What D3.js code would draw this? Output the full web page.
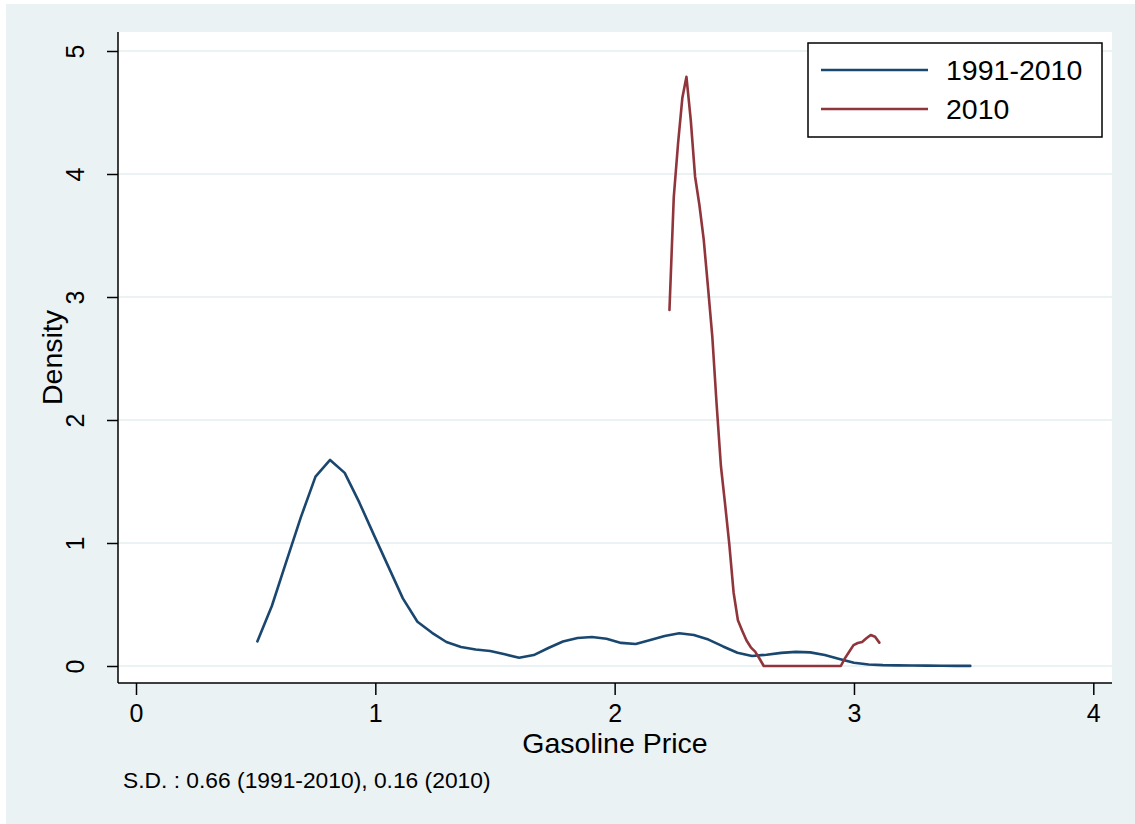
<!DOCTYPE html>
<html>
<head>
<meta charset="utf-8">
<script src="https://cdn.jsdelivr.net/npm/d3@7"></script>
<style>
  html, body { margin: 0; padding: 0; background: #ffffff; }
  svg { display: block; }
  text { font-family: "Liberation Sans", Arial, sans-serif; fill: #000; }
</style>
</head>
<body>
<svg id="chart" width="1135" height="824"></svg>
<script>
// ---- Data ----
const seriesNames = ["1991-2010", "2010"];

const xAll = [0.507,0.568,0.629,0.689,0.750,0.811,0.872,0.933,0.993,1.054,
              1.115,1.176,1.237,1.297,1.358,1.419,1.480,1.541,1.601,1.662,
              1.723,1.784,1.845,1.905,1.966,2.027,2.088,2.149,2.209,2.270,
              2.331,2.392,2.453,2.513,2.574,2.635,2.696,2.757,2.817,2.878,
              2.939,3.000,3.061,3.121,3.182,3.243,3.304,3.365,3.425,3.486];
const yAll = [0.20,0.49,0.855,1.21,1.54,1.675,1.57,1.33,1.07,0.81,
              0.55,0.36,0.27,0.195,0.155,0.134,0.122,0.095,0.067,0.089,
              0.146,0.199,0.228,0.236,0.222,0.188,0.179,0.211,0.244,0.266,
              0.252,0.215,0.159,0.108,0.081,0.092,0.107,0.115,0.111,0.089,
              0.057,0.026,0.012,0.007,0.005,0.004,0.003,0.002,0.001,0.001];

const x2010 = [2.229,2.247,2.265,2.283,2.300,2.318,2.336,2.354,2.372,2.390,
               2.408,2.426,2.444,2.461,2.479,2.497,2.515,2.533,2.551,2.569,
               2.587,2.605,2.623,2.640,2.658,2.676,2.694,2.712,2.730,2.748,
               2.766,2.784,2.801,2.819,2.837,2.855,2.873,2.891,2.909,2.927,
               2.945,2.962,2.980,2.998,3.016,3.034,3.052,3.070,3.088,3.106];
const y2010 = [2.894,3.81,4.25,4.62,4.79,4.44,3.98,3.75,3.47,3.08,
               2.68,2.13,1.626,1.325,0.99,0.598,0.372,0.287,0.207,0.152,
               0.117,0.061,0,0,0,0,0,0,0,0,
               0,0,0,0,0,0,0,0,0,0,
               0,0.062,0.116,0.17,0.187,0.195,0.225,0.252,0.238,0.19];

const xTicks = [0, 1, 2, 3, 4];
const yTicks = [0, 1, 2, 3, 4, 5];
const xTitle = "Gasoline Price";
const yTitle = "Density";
const noteText = "S.D. : 0.66 (1991-2010), 0.16 (2010)";

// ---- Layout ----
const bg = "#eaf2f3";
const colors = ["#1a476f", "#90353b"];
const svg = d3.select("#chart");

svg.append("rect").attr("x", 6).attr("y", 4).attr("width", 1135 - 6).attr("height", 824 - 4).attr("fill", bg);

const plot = { left: 118, right: 1112, top: 32, bottom: 683 };
svg.append("rect").attr("x", plot.left).attr("y", plot.top)
   .attr("width", plot.right - plot.left).attr("height", plot.bottom - plot.top).attr("fill", "#fff");

const x = d3.scaleLinear().domain([0, 4]).range([136, 1093.3]);
const y = d3.scaleLinear().domain([0, 5]).range([666, 51]);

// Grid lines
svg.append("g").selectAll("line").data(yTicks).join("line")
  .attr("x1", plot.left).attr("x2", plot.right)
  .attr("y1", d => y(d)).attr("y2", d => y(d))
  .attr("stroke", bg).attr("stroke-width", 2);

// Y axis
const yAxis = d3.axisLeft(y).tickValues(yTicks).tickSize(11).tickPadding(0).tickFormat(d3.format("d"));
const gy = svg.append("g").attr("transform", `translate(${plot.left},0)`).call(yAxis);
gy.select(".domain").remove();
gy.selectAll(".tick line").attr("stroke", "#000").attr("stroke-width", 1.5);
gy.selectAll(".tick text")
  .attr("x", 0).attr("dy", null)
  .attr("transform", "translate(-34,0) rotate(-90)")
  .attr("text-anchor", "middle")
  .attr("y", 0)
  .style("font-size", "25px").style("font-family", "Liberation Sans, Arial, sans-serif");
svg.append("line").attr("x1", plot.left).attr("x2", plot.left).attr("y1", plot.top).attr("y2", plot.bottom)
  .attr("stroke", "#000").attr("stroke-width", 1.5);

// X axis
const xAxis = d3.axisBottom(x).tickValues(xTicks).tickSize(12).tickPadding(6).tickFormat(d3.format("d"));
const gx = svg.append("g").attr("transform", `translate(0,${plot.bottom})`).call(xAxis);
gx.select(".domain").remove();
gx.selectAll(".tick line").attr("stroke", "#000").attr("stroke-width", 1.5);
gx.selectAll(".tick text").attr("dy", null).attr("y", 39)
  .style("font-size", "25px").style("font-family", "Liberation Sans, Arial, sans-serif");
svg.append("line").attr("x1", plot.left).attr("x2", plot.right).attr("y1", plot.bottom).attr("y2", plot.bottom)
  .attr("stroke", "#000").attr("stroke-width", 1.5);

// Titles
svg.append("text").attr("x", (plot.left + plot.right) / 2).attr("y", 753)
  .attr("text-anchor", "middle").style("font-size", "28.5px").text(xTitle);
svg.append("text").attr("transform", `translate(61.5,${(plot.top + plot.bottom) / 2}) rotate(-90)`)
  .attr("text-anchor", "middle").style("font-size", "28.5px").text(yTitle);
svg.append("text").attr("x", 123).attr("y", 788).style("font-size", "22.8px").text(noteText);

// Lines
const line = d3.line().x(d => x(d[0])).y(d => y(d[1]));
const series = [d3.zip(xAll, yAll), d3.zip(x2010, y2010)];
svg.append("g").selectAll("path").data(series).join("path")
  .attr("d", line).attr("fill", "none")
  .attr("stroke", (d, i) => colors[i]).attr("stroke-width", 2.6)
  .attr("stroke-linejoin", "round").attr("stroke-linecap", "round");

// Legend
const lg = svg.append("g");
lg.append("rect").attr("x", 808).attr("y", 43).attr("width", 294).attr("height", 94)
  .attr("fill", "#fff").attr("stroke", "#000").attr("stroke-width", 1.5);
const ly = [70, 109];
seriesNames.forEach((name, i) => {
  lg.append("line").attr("x1", 821).attr("x2", 928).attr("y1", ly[i]).attr("y2", ly[i])
    .attr("stroke", colors[i]).attr("stroke-width", 2.6);
  lg.append("text").attr("x", 946).attr("y", ly[i] + 10).style("font-size", "28.5px").text(name);
});
</script>
</body>
</html>
